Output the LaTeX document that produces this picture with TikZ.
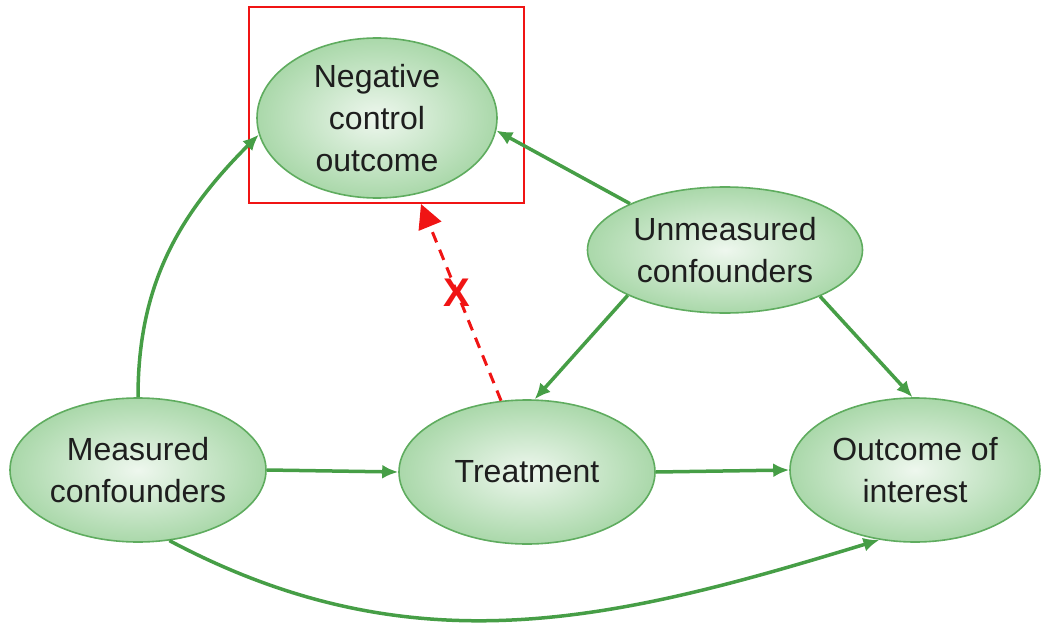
\documentclass[tikz,border=0pt]{standalone}
\usepackage{fontspec}
\setmainfont{Liberation Sans}
\usetikzlibrary{shapes.geometric,arrows.meta}
\definecolor{gborder}{RGB}{95,172,95}
\definecolor{garrow}{RGB}{70,158,70}
\definecolor{gin}{RGB}{238,247,238}
\definecolor{gout}{RGB}{170,216,170}
\definecolor{txt}{RGB}{30,30,30}
\definecolor{redx}{RGB}{240,20,20}
\tikzset{
  ell/.style={ellipse, draw=gborder, line width=1.6pt, inner color=gin, outer color=gout,
    inner sep=0pt, align=center, text=txt, font=\fontsize{32}{42}\selectfont},
  garr/.style={draw=garrow, line width=3.5pt, -{Latex[length=16pt,width=14pt]}},
  redarr/.style={draw=redx, line width=3pt, dash pattern=on 11pt off 8pt, -{Triangle[length=24pt,width=24pt]}},
}
\begin{document}
\begin{tikzpicture}[x=1pt,y=1pt]
\useasboundingbox (0,0) rectangle (1041,-626);
\node[ell, minimum width=240pt, minimum height=160pt] (neg) at (377,-118) {Negative\\control\\outcome};
\node[ell, minimum width=275pt, minimum height=126pt] (unm) at (725,-250) {Unmeasured\\confounders};
\node[ell, minimum width=256pt, minimum height=144pt] (meas) at (138,-470) {Measured\\confounders};
\node[ell, minimum width=256pt, minimum height=144pt] (treat) at (527,-472) {Treatment};
\node[ell, minimum width=250pt, minimum height=144pt] (out) at (915,-470) {Outcome of\\interest};
\node[draw=redx, line width=2pt, minimum width=275pt, minimum height=196pt, inner sep=0pt] (box) at (386.5,-105) {};
\coordinate (tip) at (421,-204);

\draw[garr] (meas.north) to[out=90,in=225] (neg.188);
\draw[garr] (unm.154) -- (neg.-6);
\draw[garr] (unm.205) -- (treat.84);
\draw[garr] (unm.-26) -- (out.92);
\draw[garr] (meas.east) -- (treat.west);
\draw[garr] (treat.east) -- (out.west);
\draw[garr] (meas.-66) to[out=-28,in=197] (out.243);
\draw[redarr] (treat.110) -- (tip) node[pos=0.55, text=redx, font=\fontsize{40}{40}\selectfont\bfseries, inner sep=0pt] (xlab) {X};
\end{tikzpicture}
\end{document}
